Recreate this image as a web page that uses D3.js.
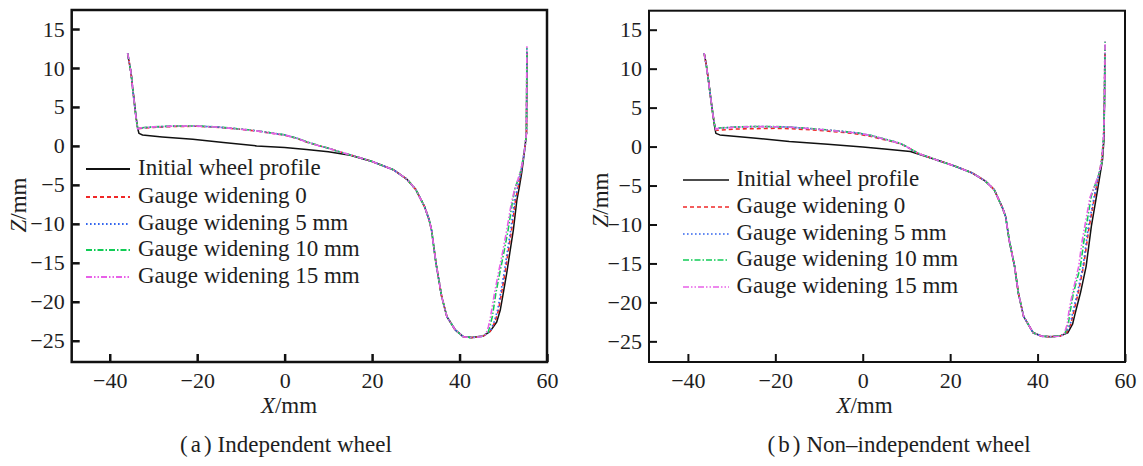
<!DOCTYPE html>
<html><head><meta charset="utf-8">
<script src="https://cdn.jsdelivr.net/npm/d3@7"></script>
<style>
body{margin:0;background:#fff}
svg{display:block}
</style>
</head><body>
<svg id="chart" width="1143" height="466"></svg>
<script>
// ---------- data ----------
const xTicks = [-40, -20, 0, 20, 40, 60];
const yTicks = [15, 10, 5, 0, -5, -10, -15, -20, -25];
const seriesNames = ["Initial wheel profile", "Gauge widening 0", "Gauge widening 5 mm", "Gauge widening 10 mm", "Gauge widening 15 mm"];
const panelCaptions = ["Independent wheel", "Non\u2013independent wheel"];
const panelLetters = ["a", "b"];

// (a) Independent wheel : [X mm, Z mm]
const a_initial = [[-35.9,11.7],[-35.5,10.6],[-35.1,9.3],[-34.8,7.6],[-34.4,5.8],[-34.0,3.8],[-33.6,2.2],[-33.3,1.6],[-32.5,1.4],[-28.0,1.15],[-21.0,0.84],[-14.0,0.45],[-6.4,0.0],[0.0,-0.2],[5.0,-0.45],[10.0,-0.75],[15.0,-1.2],[20.0,-2.0],[25.0,-3.1],[28.0,-4.3],[30.0,-5.6],[32.0,-7.8],[33.0,-9.4],[33.6,-10.8],[34.6,-15.0],[35.9,-19.3],[37.1,-21.9],[39.0,-23.6],[40.9,-24.5],[42.8,-24.6],[45.4,-24.4],[47.0,-23.8],[48.5,-22.6],[49.3,-21.1],[50.0,-18.9],[50.8,-16.3],[51.5,-13.7],[52.3,-10.8],[53.1,-7.0],[53.7,-5.2],[54.2,-3.5],[54.6,-1.8],[55.0,0.0],[55.3,1.6],[55.35,6.0],[55.4,12.0]];
const a_gw0 = [[-35.9,11.9],[-35.5,10.6],[-35.1,9.2],[-34.8,7.6],[-34.4,5.6],[-34.0,3.7],[-33.6,2.2],[-33.0,2.25],[-30.0,2.38],[-25.0,2.5],[-20.0,2.52],[-15.0,2.38],[-10.0,2.12],[-6.0,1.88],[-3.0,1.62],[0.0,1.38],[3.0,0.93],[5.0,0.5],[8.0,0.0],[10.0,-0.3],[12.5,-0.75],[15.0,-1.15],[20.0,-2.0],[25.0,-3.1],[28.0,-4.3],[30.0,-5.6],[32.0,-7.8],[33.0,-9.4],[33.6,-10.8],[34.6,-15.0],[35.9,-19.3],[37.1,-21.9],[39.0,-23.6],[40.9,-24.5],[42.8,-24.6],[45.4,-24.4],[47.0,-23.8],[48.1,-22.6],[48.9,-21.1],[49.6,-18.9],[50.4,-16.3],[51.1,-13.7],[51.9,-10.8],[52.8,-7.0],[53.5,-5.0],[54.0,-3.5],[54.5,-1.8],[55.0,0.0],[55.3,1.6],[55.35,6.0],[55.4,12.3]];
const a_gw5 = [[-35.9,11.9],[-35.5,10.6],[-35.1,9.2],[-34.8,7.6],[-34.4,5.6],[-34.0,3.7],[-33.6,2.2],[-33.0,2.3],[-30.0,2.42],[-25.0,2.55],[-20.0,2.55],[-15.0,2.4],[-10.0,2.15],[-6.0,1.9],[-3.0,1.65],[0.0,1.4],[3.0,0.95],[5.0,0.52],[8.0,0.0],[10.0,-0.3],[12.5,-0.75],[15.0,-1.15],[20.0,-2.0],[25.0,-3.1],[28.0,-4.3],[30.0,-5.6],[32.0,-7.8],[33.0,-9.4],[33.6,-10.8],[34.6,-15.0],[35.9,-19.3],[37.1,-21.9],[39.0,-23.6],[40.9,-24.5],[42.8,-24.6],[45.4,-24.4],[47.0,-23.8],[47.9,-22.6],[48.7,-21.1],[49.4,-18.9],[50.2,-16.3],[50.9,-13.7],[51.7,-10.8],[52.6,-7.0],[53.4,-5.0],[54.0,-3.5],[54.5,-1.8],[55.0,0.0],[55.3,1.6],[55.35,6.0],[55.4,12.5]];
const a_gw10 = [[-35.9,11.9],[-35.5,10.6],[-35.1,9.2],[-34.8,7.6],[-34.4,5.6],[-34.0,3.7],[-33.6,2.2],[-33.0,2.32],[-30.0,2.45],[-25.0,2.56],[-20.0,2.56],[-15.0,2.42],[-10.0,2.16],[-6.0,1.92],[-3.0,1.66],[0.0,1.42],[3.0,0.96],[5.0,0.53],[8.0,0.02],[10.0,-0.3],[12.5,-0.75],[15.0,-1.15],[20.0,-2.0],[25.0,-3.1],[28.0,-4.3],[30.0,-5.6],[32.0,-7.8],[33.0,-9.4],[33.6,-10.8],[34.6,-15.0],[35.9,-19.3],[37.1,-21.9],[39.0,-23.6],[40.9,-24.5],[42.8,-24.6],[45.0,-24.45],[46.5,-24.0],[47.0,-23.0],[47.5,-21.9],[48.3,-18.9],[49.3,-16.0],[50.2,-13.5],[51.1,-10.8],[52.0,-7.5],[52.6,-5.6],[53.4,-4.3],[54.0,-3.2],[54.5,-1.8],[55.0,0.0],[55.3,1.6],[55.35,6.0],[55.4,12.6]];
const a_gw15 = [[-35.9,11.9],[-35.5,10.6],[-35.1,9.2],[-34.8,7.6],[-34.4,5.6],[-34.0,3.7],[-33.6,2.2],[-33.0,2.3],[-30.0,2.44],[-25.0,2.55],[-20.0,2.54],[-15.0,2.4],[-10.0,2.14],[-6.0,1.9],[-3.0,1.64],[0.0,1.4],[3.0,0.94],[5.0,0.5],[8.0,0.0],[10.0,-0.3],[12.5,-0.75],[15.0,-1.15],[20.0,-2.0],[25.0,-3.1],[28.0,-4.3],[30.0,-5.6],[32.0,-7.8],[33.0,-9.4],[33.6,-10.8],[34.6,-15.0],[35.9,-19.3],[37.1,-21.9],[39.0,-23.6],[40.9,-24.5],[42.8,-24.6],[44.8,-24.5],[46.0,-24.2],[46.6,-23.2],[47.1,-21.9],[48.0,-18.9],[49.0,-16.0],[49.9,-13.5],[50.8,-10.8],[51.8,-7.5],[52.5,-5.8],[53.3,-4.4],[54.0,-3.2],[54.5,-1.8],[55.0,0.0],[55.3,1.6],[55.35,6.0],[55.4,12.8]];

// (b) Non-independent wheel : [X mm, Z mm]
const b_initial = [[-36.2,11.8],[-35.8,10.5],[-35.3,8.5],[-34.8,6.3],[-34.3,4.2],[-33.9,2.6],[-33.6,1.7],[-32.7,1.5],[-25.0,1.1],[-16.8,0.65],[-8.0,0.3],[0.0,-0.05],[5.0,-0.3],[10.9,-0.64],[16.8,-1.7],[21.0,-2.5],[25.1,-3.4],[28.0,-4.4],[30.1,-5.55],[32.0,-7.9],[32.7,-9.0],[33.5,-12.0],[34.75,-15.4],[35.6,-18.8],[36.8,-21.8],[39.0,-23.9],[41.0,-24.35],[43.0,-24.4],[45.2,-24.3],[46.9,-23.9],[48.0,-22.8],[48.6,-21.4],[49.8,-18.8],[51.1,-15.4],[52.3,-10.25],[53.6,-5.97],[54.85,-1.7],[55.2,1.0],[55.3,6.0],[55.4,12.0]];
const b_gw0 = [[-36.3,12.0],[-35.8,10.5],[-35.3,8.5],[-34.8,6.3],[-34.3,4.2],[-33.9,2.8],[-33.6,2.1],[-33.0,2.1],[-29.0,2.25],[-25.0,2.3],[-20.0,2.35],[-16.7,2.3],[-12.0,2.15],[-8.4,2.0],[-4.0,1.8],[-1.0,1.6],[2.0,1.3],[4.1,1.0],[6.0,0.75],[8.4,0.4],[10.0,0.0],[10.9,-0.3],[12.6,-0.85],[16.8,-1.7],[21.0,-2.5],[25.1,-3.4],[28.0,-4.4],[30.1,-5.55],[32.0,-7.9],[32.7,-9.0],[33.5,-12.0],[34.75,-15.4],[35.6,-18.8],[36.8,-21.8],[39.0,-23.9],[41.0,-24.35],[43.0,-24.4],[45.2,-24.3],[46.6,-23.9],[47.6,-22.8],[48.2,-21.4],[49.3,-18.8],[50.5,-15.4],[51.8,-10.3],[53.2,-6.0],[54.6,-2.0],[55.1,1.0],[55.3,6.0],[55.4,12.5]];
const b_gw5 = [[-36.3,12.0],[-35.8,10.5],[-35.3,8.5],[-34.8,6.3],[-34.3,4.2],[-33.9,2.8],[-33.6,2.2],[-33.0,2.35],[-29.0,2.5],[-25.0,2.56],[-20.0,2.54],[-16.7,2.5],[-12.0,2.3],[-8.4,2.14],[-4.0,1.9],[-1.0,1.72],[2.0,1.4],[4.1,1.08],[6.0,0.8],[8.4,0.44],[10.0,0.0],[10.9,-0.3],[12.6,-0.85],[16.8,-1.7],[21.0,-2.5],[25.1,-3.4],[28.0,-4.4],[30.1,-5.55],[32.0,-7.9],[32.7,-9.0],[33.5,-12.0],[34.75,-15.4],[35.6,-18.8],[36.8,-21.8],[39.0,-23.9],[41.0,-24.35],[43.0,-24.4],[45.2,-24.3],[46.6,-23.9],[47.5,-22.8],[48.0,-21.4],[49.1,-18.8],[50.4,-15.4],[51.6,-10.3],[53.1,-6.0],[54.6,-2.0],[55.1,1.0],[55.3,6.0],[55.4,13.0]];
const b_gw10 = [[-36.3,12.0],[-35.8,10.5],[-35.3,8.5],[-34.8,6.3],[-34.3,4.2],[-33.9,2.8],[-33.6,2.2],[-33.0,2.38],[-29.0,2.52],[-25.0,2.58],[-20.0,2.56],[-16.7,2.5],[-12.0,2.32],[-8.4,2.15],[-4.0,1.92],[-1.0,1.74],[2.0,1.42],[4.1,1.1],[6.0,0.82],[8.4,0.45],[10.0,0.02],[10.9,-0.3],[12.6,-0.85],[16.8,-1.7],[21.0,-2.5],[25.1,-3.4],[28.0,-4.4],[30.1,-5.55],[32.0,-7.9],[32.7,-9.0],[33.5,-12.0],[34.75,-15.4],[35.6,-18.8],[36.8,-21.8],[39.0,-23.9],[41.0,-24.35],[43.0,-24.4],[45.0,-24.3],[46.2,-24.1],[47.0,-22.8],[47.5,-21.0],[48.2,-18.8],[49.8,-15.4],[50.6,-12.1],[51.5,-9.0],[52.3,-6.3],[53.0,-5.2],[54.0,-3.6],[54.7,-2.0],[55.1,1.0],[55.35,6.0],[55.45,13.7]];
const b_gw15 = [[-36.3,12.0],[-35.8,10.5],[-35.3,8.5],[-34.8,6.3],[-34.3,4.2],[-33.9,2.8],[-33.6,2.2],[-33.0,2.36],[-29.0,2.5],[-25.0,2.57],[-20.0,2.55],[-16.7,2.5],[-12.0,2.3],[-8.4,2.14],[-4.0,1.9],[-1.0,1.72],[2.0,1.4],[4.1,1.08],[6.0,0.8],[8.4,0.44],[10.0,0.0],[10.9,-0.3],[12.6,-0.85],[16.8,-1.7],[21.0,-2.5],[25.1,-3.4],[28.0,-4.4],[30.1,-5.55],[32.0,-7.9],[32.7,-9.0],[33.5,-12.0],[34.75,-15.4],[35.6,-18.8],[36.8,-21.8],[39.0,-23.9],[41.0,-24.35],[43.0,-24.4],[44.8,-24.35],[46.0,-24.2],[46.8,-22.8],[47.2,-21.0],[48.0,-18.8],[49.4,-15.4],[50.2,-12.1],[51.2,-9.0],[52.0,-6.5],[52.8,-5.4],[53.9,-3.7],[54.7,-2.0],[55.1,1.0],[55.35,6.0],[55.45,13.5]];

// ---------- styles & layout ----------
const FONT = "'Liberation Serif', 'Times New Roman', serif";
const TXT = "#1e1e1e";
const colors = ["#111111", "#f02828", "#3366ee", "#10cc55", "#e860e8"];
const dashes = [null, "4,3", "1.6,2.4", "6,2,1.5,2", "6,2,1.5,2,1.5,2"];
const widths = [1.5, 1.6, 1.7, 1.6, 1.6];

const panels = [
  { data: [a_initial, a_gw0, a_gw5, a_gw10, a_gw15],
    left: 71.7, right: 547, top: 10, bottom: 362, frameW: 2.5,
    xDomain: [-48.7, 60], yDomain: [-27.73, 17.44],
    legX1: 86, legX2: 130, legTX: 138, legY: [168, 196, 223, 249, 276], legW: 1.8,
    zx: 26, zy: 205, xlX: 289, xlY: 413, capX: 180, capY: 452 },
  { data: [b_initial, b_gw0, b_gw5, b_gw10, b_gw15],
    left: 649, right: 1125, top: 10.7, bottom: 362, frameW: 2,
    xDomain: [-48.9, 60], yDomain: [-27.65, 17.44],
    legX1: 683, legX2: 729, legTX: 736.5, legY: [179, 206, 233, 259, 286], legW: 1.3,
    zx: 607.5, zy: 200, xlX: 864.5, xlY: 413, capX: 767.6, capY: 452 }
];

const svg = d3.select("#chart");
svg.append("rect").attr("width", 1143).attr("height", 466).attr("fill", "#ffffff");

function styleText(sel, size) {
  return sel.style("font-family", FONT).style("font-size", size + "px").style("fill", TXT);
}

panels.forEach((p, pi) => {
  const g = svg.append("g");
  const x = d3.scaleLinear().domain(p.xDomain).range([p.left, p.right]);
  const y = d3.scaleLinear().domain(p.yDomain).range([p.bottom, p.top]);
  const line = d3.line().x(d => x(d[0])).y(d => y(d[1]));

  p.data.forEach((s, i) => {
    g.append("path").datum(s).attr("d", line)
      .attr("fill", "none").attr("stroke", colors[i])
      .attr("stroke-width", widths[i])
      .attr("stroke-dasharray", dashes[i])
      .attr("stroke-linejoin", "round");
  });

  // axes with inward ticks
  const ax = g.append("g").attr("transform", `translate(0,${p.bottom})`)
    .call(d3.axisBottom(x).tickValues(xTicks).tickSize(-8).tickPadding(10).tickFormat(d3.format("d")));
  const ay = g.append("g").attr("transform", `translate(${p.left},0)`)
    .call(d3.axisLeft(y).tickValues(yTicks).tickSize(-8).tickPadding(7).tickFormat(d3.format("d")));
  [ax, ay].forEach(a => {
    a.attr("font-family", null).attr("font-size", null);
    a.select(".domain").remove();
    a.selectAll(".tick line").attr("stroke", "#111").attr("stroke-width", p.frameW);
    styleText(a.selectAll(".tick text"), 22);
  });

  // frame
  g.append("rect").attr("x", p.left).attr("y", p.top)
    .attr("width", p.right - p.left).attr("height", p.bottom - p.top)
    .attr("fill", "none").attr("stroke", "#111").attr("stroke-width", p.frameW);

  // legend
  seriesNames.forEach((name, i) => {
    const ly = p.legY[i];
    g.append("line").attr("x1", p.legX1).attr("x2", p.legX2).attr("y1", ly + 1).attr("y2", ly + 1)
      .attr("stroke", colors[i]).attr("stroke-width", p.legW).attr("stroke-dasharray", dashes[i]);
    styleText(g.append("text").attr("x", p.legTX).attr("y", ly + 7), 23).text(name);
  });

  // axis titles
  const zt = styleText(g.append("text").attr("transform", `translate(${p.zx},${p.zy}) rotate(-90)`)
    .attr("text-anchor", "middle"), 23);
  zt.append("tspan").style("font-style", "italic").text("Z");
  zt.append("tspan").text("/mm");
  const xt = styleText(g.append("text").attr("x", p.xlX).attr("y", p.xlY)
    .attr("text-anchor", "middle"), 23);
  xt.append("tspan").style("font-style", "italic").text("X");
  xt.append("tspan").text("/mm");

  // caption
  const ct = styleText(g.append("text").attr("x", p.capX).attr("y", p.capY), 23);
  ct.append("tspan").text("(");
  ct.append("tspan").attr("dx", 3).text(panelLetters[pi]);
  ct.append("tspan").attr("dx", 3).text(")");
  ct.append("tspan").attr("dx", 6).text(panelCaptions[pi]);
});
</script>
</body></html>
